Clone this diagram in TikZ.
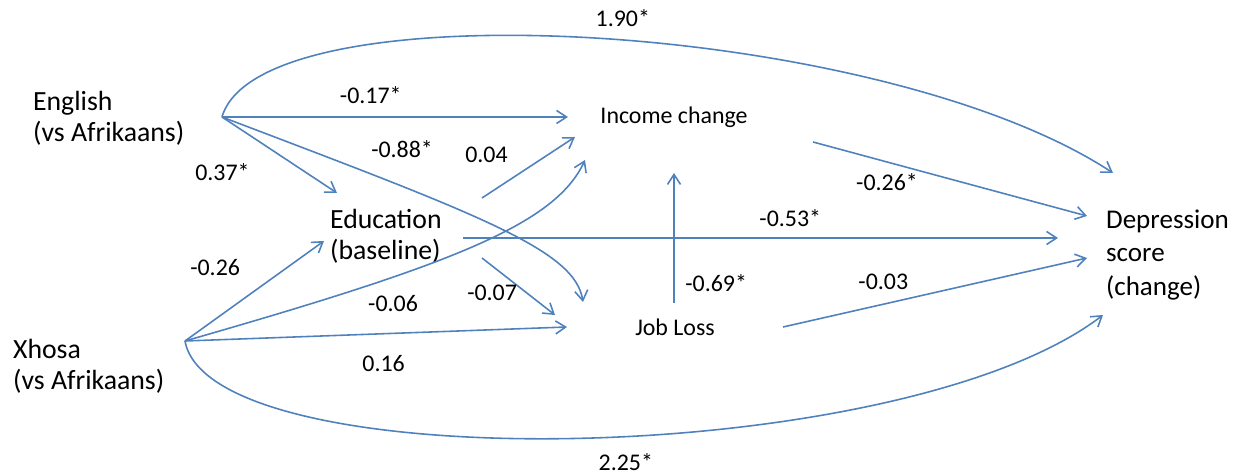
\documentclass[tikz,border=0pt]{standalone}
\usepackage{fontspec}
\setmainfont{Carlito}
\usetikzlibrary{arrows.meta,positioning}
\definecolor{pathblue}{RGB}{79,129,189}

\begin{document}
\begin{tikzpicture}[x=0.02cm, y=-0.02cm,
        every node/.style={align=left, inner sep=1pt},
        var/.style={font=\fontsize{15.8}{17.5}\selectfont},
        med/.style={font=\fontsize{13.6}{16}\selectfont},
        coef/.style={font=\fontsize{13.6}{16}\selectfont, text=black},
        >={Straight Barb[length=2mm,width=2.6mm]},
        arr/.style={->, pathblue, line width=0.9pt}]
                        \useasboundingbox (0,0) rectangle (1250,475);
                        \node[var, anchor=west] (Eng) at (31,118) {English\\(vs Afrikaans)};
                        \node[var, anchor=west] (Xho) at (11,366) {Xhosa\\(vs Afrikaans)};
                        \node[var, anchor=west] (Edu) at (328,236) {Education\\(baseline)};
                        \node[med] (Inc) at (674,117) {Income change};
                        \node[med] (Job) at (675,327) {Job Loss};
                        \node[var, anchor=west, font=\fontsize{15.4}{18.8}\selectfont] (Dep) at (1104,255) {Depression\\score\\(change)};
                        \coordinate (EngR) at (222,117);
                        \coordinate (XhoR) at (185,341);
                        \coordinate (EduN) at (337,193);
                        \coordinate (EduW) at (324,241);
                        \coordinate (EduNE) at (482,198);
                        \coordinate (EduE) at (463,238);
                        \coordinate (EduSE) at (482,258);
                        \coordinate (IncW) at (568,117);
                        \coordinate (IncS1) at (575,137);
                        \coordinate (IncSW) at (585,160);
                        \coordinate (IncS) at (674,173);
                        \coordinate (IncE) at (813,142);
                        \coordinate (JobNW) at (583,302);
                        \coordinate (JobW2) at (555,315);
                        \coordinate (JobW) at (567,327);
                        \coordinate (JobN) at (674,303);
                        \coordinate (JobE) at (783,327);
                        \coordinate (DepTop) at (1113,173);
                        \coordinate (DepNW) at (1087,216);
                        \coordinate (DepW) at (1058,238);
                        \coordinate (DepSW) at (1087,258);
                        \coordinate (DepBot) at (1103,315);
                        \draw[arr] (EngR) .. controls (260,-15) and (880,20) .. (DepTop) node[coef, pos=.525, above=6pt] (c1) {1.90*};
                        \draw[arr] (EngR) -- (IncW) node[coef, pos=.43, above=6pt] (c2) {-0.17*};
                        \draw[arr] (EngR) -- (EduN) node[coef, pos=.72, left=30pt] (c3) {0.37*};
                        \draw[arr] (EngR) .. controls (480,215) and (575,250) .. (JobNW) node[coef, pos=.28, above=15pt] (c4) {-0.88*};
                        \draw[arr] (XhoR) -- (EduW) node[coef, pos=.73, left=25pt] (c5) {-0.26};
                        \draw[arr] (XhoR) .. controls (450,265) and (555,225) .. (IncSW) node[coef, pos=.32, below=9pt] (c6) {-0.06};
                        \draw[arr] (XhoR) -- (JobW) node[coef, pos=.52, below=11pt] (c7) {0.16};
                        \draw[arr] (XhoR) .. controls (210,480) and (900,470) .. (DepBot) node[coef, pos=.54, below=8pt] (c8) {2.25*};
                        \draw[arr] (EduNE) -- (IncS1) node[coef, pos=.7, left=21pt] (c9) {0.04};
                        \draw[arr] (EduE) -- (DepW) node[coef, pos=.55, above=5pt] (c10) {-0.53*};
                        \draw[arr] (EduSE) -- (JobW2) node[coef, pos=.61, left=4pt] (c11) {-0.07};
                        \draw[arr] (IncE) -- (DepNW) node[coef, pos=.27, below=5pt] (c12) {-0.26*};
                        \draw[arr] (JobN) -- (IncS) node[coef, pos=.15, right=5pt] (c13) {-0.69*};
                        \draw[arr] (JobE) -- (DepSW) node[coef, pos=.33, above=7pt] (c14) {-0.03};
\end{tikzpicture}
\end{document}
